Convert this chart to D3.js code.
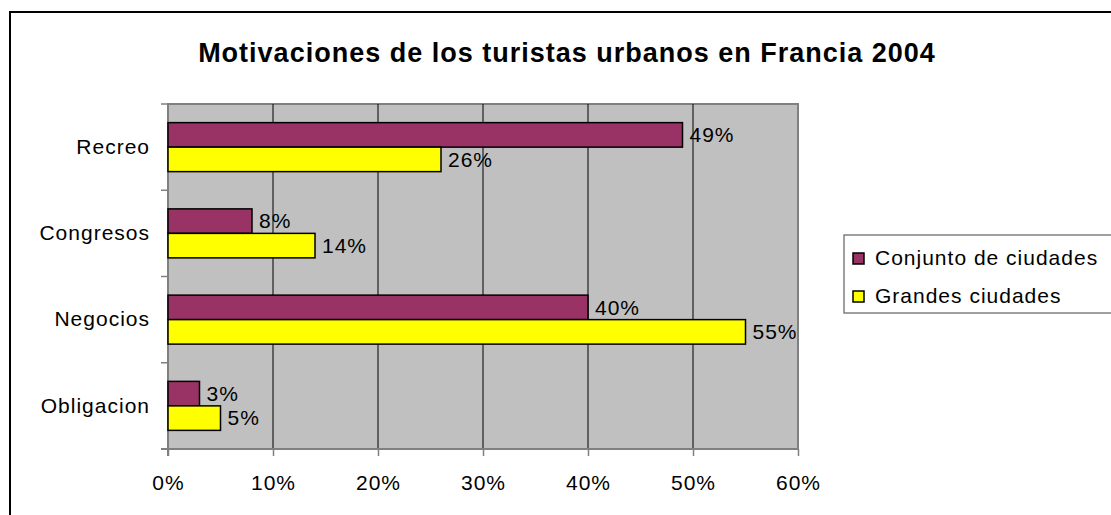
<!DOCTYPE html>
<html>
<head>
<meta charset="utf-8">
<script src="https://cdn.jsdelivr.net/npm/d3@7"></script>
<style>
  body { margin: 0; background: #fff; }
  svg { display: block; font-family: Arial, "Liberation Sans", sans-serif; }
</style>
</head>
<body>
<svg width="1111" height="515"></svg>
<script>
var categories = ["Recreo", "Congresos", "Negocios", "Obligacion"];
var seriesNames = ["Conjunto de ciudades", "Grandes ciudades"];
var conjunto = [49, 8, 40, 3];
var grandes = [26, 14, 55, 5];
var tickValues = [0, 10, 20, 30, 40, 50, 60];
var colors = ["#993366", "#FFFF00"];

var svg = d3.select("svg");
var fs = 21, ls = 1; // tamaño de letra y espaciado

// marco exterior
svg.append("rect")
    .attr("x", 10).attr("y", 12)
    .attr("width", 1120).attr("height", 520)
    .attr("fill", "#fff")
    .attr("stroke", "#000")
    .attr("stroke-width", 2);

svg.append("text")
    .attr("x", 567).attr("y", 62)
    .attr("text-anchor", "middle")
    .attr("font-weight", "bold")
    .attr("font-size", 27)
    .attr("letter-spacing", 1)
    .text("Motivaciones de los turistas urbanos en Francia 2004");

var plot = { left: 168, top: 104, right: 798, bottom: 449 };

var x = d3.scaleLinear().domain([0, 60]).range([plot.left, plot.right]);
var y = d3.scaleBand().domain(categories).range([plot.top, plot.bottom]);
var barH = 24.5;

var data = categories.map(function(c, i) {
    return { cat: c, values: [conjunto[i], grandes[i]] };
});

svg.append("rect")
    .attr("x", plot.left).attr("y", plot.top)
    .attr("width", plot.right - plot.left).attr("height", plot.bottom - plot.top)
    .attr("fill", "#C0C0C0")
    .attr("stroke", "#808080")
    .attr("stroke-width", 2);

// lineas de cuadricula
svg.append("g")
    .selectAll("line")
    .data(tickValues.slice(1, -1))
    .enter().append("line")
    .attr("x1", function(d) { return x(d); })
    .attr("x2", function(d) { return x(d); })
    .attr("y1", plot.top).attr("y2", plot.bottom)
    .attr("stroke", "#000")
    .attr("stroke-width", 1);

// eje x
var xAxis = svg.append("g")
    .attr("transform", "translate(0," + plot.bottom + ")")
    .call(d3.axisBottom(x).tickValues(tickValues).tickSize(7).tickPadding(19)
        .tickFormat(function(d) { return d + "%"; }));
xAxis.select(".domain").attr("stroke", "#808080").attr("stroke-width", 2)
    .attr("d", "M" + (plot.left - 7) + ",0H" + plot.right);
xAxis.selectAll(".tick line").attr("stroke", "#808080").attr("stroke-width", 1.5);
xAxis.selectAll("text").attr("font-size", fs).attr("letter-spacing", ls).attr("fill", "#000")
    .attr("font-family", "Arial, 'Liberation Sans', sans-serif");

// eje y
var yAxis = svg.append("g")
    .attr("transform", "translate(" + plot.left + ",0)")
    .call(d3.axisLeft(y).tickSize(0).tickPadding(18));
yAxis.select(".domain").remove();
yAxis.selectAll("text").attr("font-size", fs).attr("letter-spacing", ls).attr("fill", "#000")
    .attr("font-family", "Arial, 'Liberation Sans', sans-serif");

svg.append("line")
    .attr("x1", plot.left).attr("x2", plot.left)
    .attr("y1", plot.top).attr("y2", plot.bottom + 7)
    .attr("stroke", "#808080").attr("stroke-width", 2);

var bounds = categories.map(function(c) { return y(c); }).concat([plot.bottom]);
svg.append("g")
    .selectAll("line")
    .data(bounds)
    .enter().append("line")
    .attr("x1", plot.left - 7).attr("x2", plot.left)
    .attr("y1", function(d) { return d; })
    .attr("y2", function(d) { return d; })
    .attr("stroke", "#808080").attr("stroke-width", 1.5);

// barras
var groups = svg.append("g")
    .selectAll("g")
    .data(data)
    .enter().append("g")
    .attr("transform", function(d) {
        return "translate(0," + (y(d.cat) + y.bandwidth() / 2 - barH) + ")";
    });

groups.selectAll("rect")
    .data(function(d) { return d.values; })
    .enter().append("rect")
    .attr("x", plot.left)
    .attr("y", function(d, i) { return i * barH; })
    .attr("width", function(d) { return x(d) - plot.left; })
    .attr("height", barH)
    .attr("fill", function(d, i) { return colors[i]; })
    .attr("stroke", "#000")
    .attr("stroke-width", 1.5);

groups.selectAll("text")
    .data(function(d) { return d.values; })
    .enter().append("text")
    .attr("x", function(d) { return x(d) + 7; })
    .attr("y", function(d, i) { return i * barH + barH / 2; })
    .attr("dy", "0.35em")
    .attr("font-size", fs)
    .attr("letter-spacing", ls)
    .text(function(d) { return d + "%"; });

// leyenda
var legend = svg.append("g");
legend.append("rect")
    .attr("x", 844).attr("y", 235)
    .attr("width", 300).attr("height", 78)
    .attr("fill", "#fff")
    .attr("stroke", "#808080")
    .attr("stroke-width", 1.5);

var items = legend.selectAll("g")
    .data(seriesNames)
    .enter().append("g")
    .attr("transform", function(d, i) { return "translate(853," + (258 + i * 38) + ")"; });

items.append("rect")
    .attr("x", 0).attr("y", -5)
    .attr("width", 11).attr("height", 11)
    .attr("fill", function(d, i) { return colors[i]; })
    .attr("stroke", "#000")
    .attr("stroke-width", 1.5);

items.append("text")
    .attr("x", 22).attr("y", 0)
    .attr("dy", "0.35em")
    .attr("font-size", fs)
    .attr("letter-spacing", ls)
    .text(function(d) { return d; });
</script>
</body>
</html>
